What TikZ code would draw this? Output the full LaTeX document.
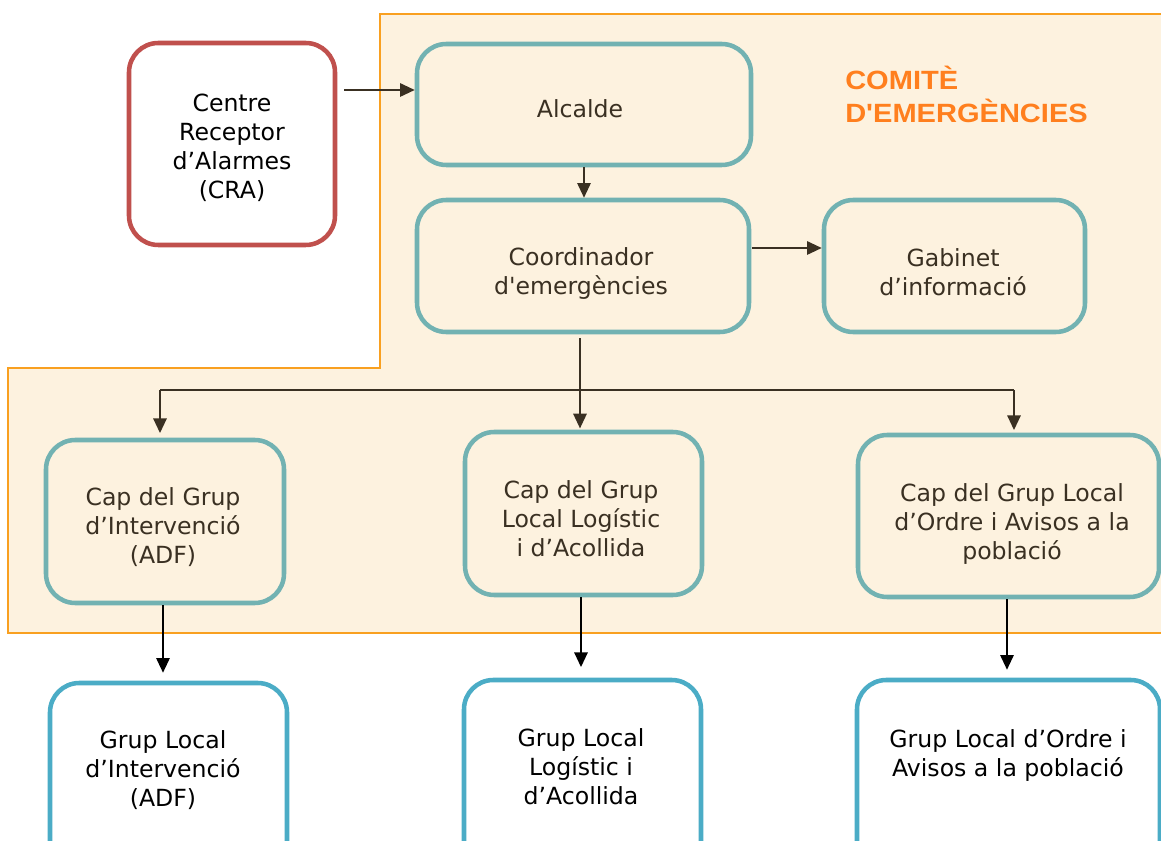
\documentclass[tikz,border=0pt]{standalone}
\usepackage{fontspec}
\setmainfont{DejaVu Sans}[Ligatures=TeXOff]
\newfontfamily\titlefont[FakeStretch=1.1,Ligatures=TeXOff]{Liberation Sans}
\usetikzlibrary{arrows.meta}
\definecolor{cream}{HTML}{FDF2DF}
\definecolor{frameor}{HTML}{F9A020}
\definecolor{teal}{HTML}{72B2B2}
\definecolor{bluebox}{HTML}{4BACC6}
\definecolor{redbox}{HTML}{C0504D}
\definecolor{txtbrown}{HTML}{3A3022}
\definecolor{titleor}{HTML}{FF7F1E}
\tikzset{
  base/.style={rounded corners=22pt, line width=3.4pt, inner sep=0pt},
  tealbox/.style={base, draw=teal, fill=cream},
  redrect/.style={base, draw=redbox, fill=white},
  bluerect/.style={base, draw=bluebox, fill=white},
  lbl/.style={align=center, inner sep=0pt, font=\fontsize{17.7}{21.75}\selectfont, text=black},
  lblb/.style={lbl, text=txtbrown},
  conn/.style={line width=1.4pt, draw=txtbrown, -{Triangle[length=11pt,width=10pt]}},
  connb/.style={line width=1.4pt, draw=black, -{Triangle[length=11pt,width=10pt]}},
  plain/.style={line width=1.4pt, draw=txtbrown}
}
\begin{document}
\begin{tikzpicture}[x=0.75pt,y=-0.75pt]
\useasboundingbox (0,0) rectangle (1161,841);
\clip (0,0) rectangle (1161,841);
% committee area
\path[fill=cream, draw=frameor, line width=1.3pt]
  (380,14) -- (1175,14) -- (1175,633) -- (8,633) -- (8,368) -- (380,368) -- cycle;
% title
\node[anchor=north west, inner sep=0pt, align=left, text=titleor,
  font=\titlefont\bfseries\fontsize{19.8}{24.75}\selectfont] (title) at (845,66)
  {COMITÈ\\D'EMERGÈNCIES};
% top boxes
\node[redrect, minimum width=154.5pt, minimum height=151.5pt] (cra) at (232,144) {};
\node[lbl] (cratxt) at (232,148) {Centre\\Receptor\\d’Alarmes\\(CRA)};
\node[tealbox, minimum width=250.5pt, minimum height=90.75pt] (alc) at (584,104.5) {};
\node[lblb] (alctxt) at (580,108.5) {Alcalde};
\node[tealbox, minimum width=249pt, minimum height=99pt] (coord) at (583,266) {};
\node[lblb] (coordtxt) at (581,273.5) {Coordinador\\d'emergències};
\node[tealbox, minimum width=195.75pt, minimum height=99pt] (gab) at (954.5,266) {};
\node[lblb] (gabtxt) at (953,272) {Gabinet\\d’informació};
% cap boxes
\node[tealbox, minimum width=178.5pt, minimum height=122.25pt] (capl) at (165,521.5) {};
\node[lblb] (capltxt) at (163,527) {Cap del Grup\\d’Intervenció\\(ADF)};
\node[tealbox, minimum width=177.75pt, minimum height=122.25pt] (capm) at (583.5,513.5) {};
\node[lblb] (capmtxt) at (581,519) {Cap del Grup\\Local Logístic\\i d’Acollida};
\node[tealbox, minimum width=225.75pt, minimum height=121.5pt] (capr) at (1008.5,516) {};
\node[lblb] (caprtxt) at (1012,524) {Cap del Grup Local\\d’Ordre i Avisos a la\\població};
% bottom boxes
\node[bluerect, minimum width=177.75pt, minimum height=142.5pt] (botl) at (168.5,778) {};
\node[lbl] (botltxt) at (163,770) {Grup Local\\d’Intervenció\\(ADF)};
\node[bluerect, minimum width=177.75pt, minimum height=142.5pt] (botm) at (582.5,775) {};
\node[lbl] (botmtxt) at (581,767) {Grup Local\\Logístic i\\d’Acollida};
\node[bluerect, minimum width=227.25pt, minimum height=142.5pt] (botr) at (1008.5,775) {};
\node[lbl] (botrtxt) at (1008,755) {Grup Local d’Ordre i\\Avisos a la població};
% connectors
\coordinate (craout) at (344,90);
\draw[conn] (craout) -- (alc.west |- craout);
\coordinate (acx) at (584,0);
\draw[conn] (alc.south -| acx) -- (coord.north -| acx);
\coordinate (cgout) at (752,248);
\draw[conn] (cgout) -- (gab.west |- cgout);
\coordinate (bl) at (160,390);
\coordinate (br) at (1014,390);
\coordinate (mx) at (580,0);
\draw[plain] (bl) -- (br);
\draw[conn, shorten >=3.5pt] (bl) -- (bl |- capl.north);
\draw[conn, shorten >=1pt] (coord.south -| mx) ++(0,4) -- (capm.north -| mx);
\draw[conn, shorten >=2pt] (br) -- (br |- capr.north);
\coordinate (lx) at (163,0);
\coordinate (mx2) at (581,0);
\coordinate (rx) at (1007,0);
\draw[connb, shorten >=6pt] (capl.south -| lx) -- (botl.north -| lx);
\draw[connb, shorten >=8pt] (capm.south -| mx2) -- (botm.north -| mx2);
\draw[connb, shorten >=6pt] (capr.south -| rx) -- (botr.north -| rx);
\end{tikzpicture}
\end{document}
